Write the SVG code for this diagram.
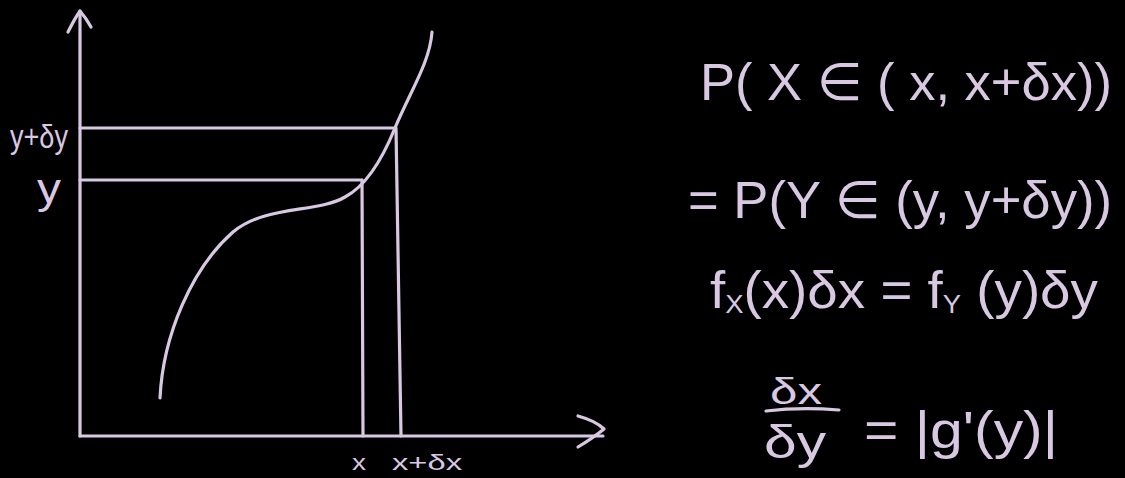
<svg xmlns="http://www.w3.org/2000/svg" width="1125" height="478" viewBox="0 0 1125 478">
<style>
.ln{fill:none;stroke:#d8c8e2;stroke-width:3.2;stroke-linecap:round;stroke-linejoin:round}
.t{fill:#d8c8e2;font-family:"Liberation Sans","DejaVu Sans",sans-serif;font-weight:normal}
</style>
<rect width="1125" height="478" fill="#000"/>
<g id="axes">
<path class="ln" d="M80,436 L80,11"/>
<path class="ln" d="M68,32 Q75,18 80,11 Q86,18 91,27"/>
<path class="ln" d="M80,436 L603,436"/>
<path class="ln" d="M578,416 Q596,421 604,429 Q593,438 578,447"/>
</g>
<g id="guides">
<path class="ln" d="M80,128 L395,128"/>
<path class="ln" d="M80,180 L362,180"/>
<path class="ln" d="M362,180 L363,436"/>
<path class="ln" d="M396,128 L401,436"/>
</g>
<g id="curve">
<path class="ln" d="M160,398 C163,335 192,268 233,232 C265,205 318,213 345,197 C366,186 382,160 395,128 C410,92 430,62 432,32"/>
</g>
<g id="axis-labels">
<text class="t" x="10" y="148" font-size="34" textLength="58" lengthAdjust="spacingAndGlyphs">y+δy</text>
<text class="t" x="37" y="203" font-size="42" textLength="24" lengthAdjust="spacingAndGlyphs">y</text>
<text class="t" x="352" y="470" font-size="22" textLength="14" lengthAdjust="spacingAndGlyphs">x</text>
<text class="t" x="392" y="470" font-size="22" textLength="70" lengthAdjust="spacingAndGlyphs">x+δx</text>
</g>
<g id="eq1">
<text class="t" x="700" y="100" font-size="52" textLength="412" lengthAdjust="spacingAndGlyphs">P( X ∈ ( x, x+δx))</text>
</g>
<g id="eq2">
<text class="t" x="688" y="218" font-size="52" textLength="424" lengthAdjust="spacingAndGlyphs">= P(Y ∈ (y, y+δy))</text>
</g>
<g id="eq3">
<text class="t" x="710" y="308" font-size="52" textLength="388" lengthAdjust="spacingAndGlyphs">f<tspan font-size="26" dy="5">X</tspan><tspan dy="-5">(x)δx = f</tspan><tspan font-size="26" dy="5">Y</tspan><tspan dy="-5"> (y)δy</tspan></text>
</g>
<g id="eq4">
<text class="t" x="770" y="404" font-size="36" textLength="52" lengthAdjust="spacingAndGlyphs">δx</text>
<path class="ln" d="M766,411 Q800,407 839,410"/>
<text class="t" x="764" y="458" font-size="46" textLength="62" lengthAdjust="spacingAndGlyphs">δy</text>
<text class="t" x="864" y="448" font-size="52" textLength="194" lengthAdjust="spacingAndGlyphs">= |g'(y)|</text>
</g>
</svg>
